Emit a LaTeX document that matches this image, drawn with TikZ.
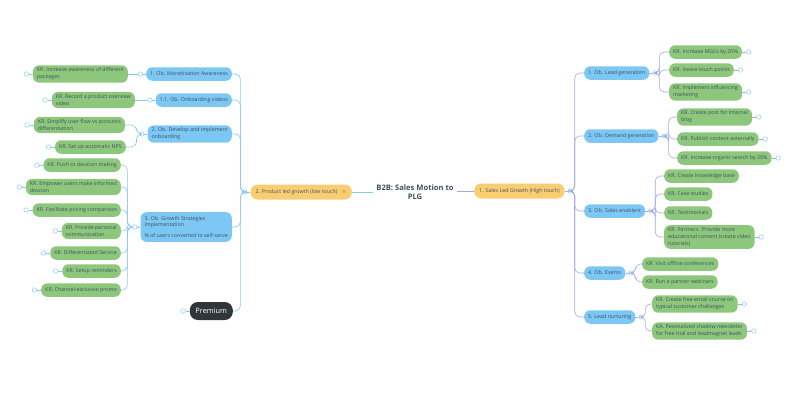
\documentclass[tikz,border=0pt]{standalone}
\usepackage{fontspec}
\setmainfont{Open Sans}
\usetikzlibrary{positioning}

\definecolor{obblue}{HTML}{7CC7F3}
\definecolor{krgreen}{HTML}{8DC77B}
\definecolor{goalorange}{HTML}{F9CE72}
\definecolor{premdark}{HTML}{30363A}
\definecolor{boxtext}{HTML}{3E5063}
\definecolor{leftline}{HTML}{88C9EE}
\definecolor{rightline}{HTML}{A2ABE4}
\definecolor{knobblue}{HTML}{8FCBEF}
\definecolor{noteicon}{HTML}{B07A1E}

\begin{document}
\begin{tikzpicture}[
  x=1pt, y=-1pt,
  every node/.style={font=\fontsize{5.3}{6.8}\selectfont, text=boxtext, align=left},
  ob/.style={fill=obblue, rounded corners=6pt, inner xsep=4pt, inner ysep=2.6pt, minimum height=13.5pt},
  kr/.style={fill=krgreen, rounded corners=6pt, inner xsep=4pt, inner ysep=2.6pt, minimum height=13.5pt},
  goal/.style={fill=goalorange, rounded corners=7pt, inner xsep=5pt, minimum height=15pt},
  prem/.style={fill=premdark, text=white, rounded corners=8pt, font=\fontsize{7.4}{8}\selectfont,
    minimum height=18pt, minimum width=43pt},
  title/.style={font=\bfseries\fontsize{7.6}{9}\selectfont, align=center},
  knob/.style={circle, draw=knobblue, fill=white, line width=0.5pt, minimum size=4.5pt, inner sep=0pt},
  lline/.style={draw=leftline, line width=0.6pt, rounded corners=5pt},
  rline/.style={draw=rightline, line width=0.6pt, rounded corners=5pt}
]
\useasboundingbox (0,0) rectangle (800,400);

% centre
\node[title] (main) at (415,192) {B2B: Sales Motion to\\PLG};
\node[goal, anchor=east] (gL) at (352,192)
  {2. Product led growth (low touch)\hspace{4pt}{\color{noteicon}$\equiv$}};
\node[goal, anchor=west] (gR) at (474,191) {1. Sales Led Growth (High touch)};
\draw[lline] (main.west |- gL.east) -- (gL.east);
\draw[rline] (main.east |- gR.west) -- (gR.west);

% left: product led
\node[ob, anchor=east] (oA) at (232,74) {1. Ob. Monetisation Awareness};
\node[ob, anchor=east] (oB) at (232,100) {1.1. Ob. Onboarding videos};
\node[ob, anchor=east] (oC) at (232,134) {2. Ob. Develop and implement\\onboarding};
\node[ob, anchor=east, inner ysep=4pt] (oD) at (232,227)
  {3. Ob. Growth Strategies\\implementation\\[4pt]\% of users converted to self-serve};
\node[prem, anchor=east] (prem) at (233,311) {Premium};

\node[kr, anchor=east] (kAa) at (128,74) {KR. Increase awareness of different\\packages};
\node[kr, anchor=east] (kAb) at (135,100) {KR. Record a product overview\\video};
\node[kr, anchor=east] (kBa) at (125,125) {KR. Simplify user flow vs accounts\\differentiation};
\node[kr, anchor=east] (kBb) at (126,147) {KR. Set up automatic NPS};
\node[kr, anchor=east] (kCa) at (121,165) {KR. Push to devicion making};
\node[kr, anchor=east] (kCb) at (121,187) {KR. Empower users make informed\\descion};
\node[kr, anchor=east] (kCc) at (121,210) {KR. Facilitate pricing comparison};
\node[kr, anchor=east] (kCd) at (121,231) {KR. Provide personal\\communication};
\node[kr, anchor=east] (kCe) at (121,253) {KR. Differentiated Service};
\node[kr, anchor=east] (kCf) at (121,271) {KR. Setup reminders};
\node[kr, anchor=east] (kCg) at (121,290) {KR. Channel-exclusive promo};

\node[knob, left=3pt of gL] (gL-k) {};
\foreach \n in {oA,oB,oC,oD} {
  \node[knob, left=3pt of \n] (\n-k) {};
  \draw[lline] (\n) -- (\n-k);
}
\node[knob, left=4pt of prem] (prem-k) {};
\draw[lline] (prem) -- (prem-k);
\foreach \n in {kAa,kAb,kBa,kBb,kCa,kCb,kCc,kCd,kCe,kCf,kCg} {
  \node[knob, left=4pt of \n] (\n-k) {};
  \draw[lline] (\n) -- (\n-k);
}

\draw[lline] (gL) -- (gL-k);
\foreach \c in {oA,oB,oC,oD,prem}
  \draw[lline] (gL-k.west) -- ++(-2,0) |- (\c.east);
\draw[lline] (oA-k) -- (kAa);
\draw[lline] (oB-k) -- (kAb);
\foreach \c in {kBa,kBb}
  \draw[lline] (oC-k.west) -- ++(-3,0) |- (\c.east);
\foreach \c in {kCa,kCb,kCc,kCd,kCe,kCf,kCg}
  \draw[lline] (oD-k.west) -- ++(-5,0) |- (\c.east);

% right: sales led
\node[ob, anchor=west] (rA) at (584,73) {1. Ob. Lead generation};
\node[ob, anchor=west] (rB) at (584,136) {2. Ob. Demand generation};
\node[ob, anchor=west] (rC) at (584,211) {3. Ob. Sales enablent};
\node[ob, anchor=west] (rD) at (584,273) {4. Ob. Events};
\node[ob, anchor=west] (rE) at (584,317) {5. Lead nurturing};

\node[kr, anchor=west] (kRa) at (669,52) {KR. Increase MGL's by 20\%};
\node[kr, anchor=west] (kRb) at (669,70) {KR. Irease touch points};
\node[kr, anchor=west] (kRc) at (669,92) {KR. Implement influencing\\marketing};
\node[kr, anchor=west] (kRd) at (677,117) {KR. Create post for internal\\blog};
\node[kr, anchor=west] (kRe) at (677,139) {KR. Publish content externally};
\node[kr, anchor=west] (kRf) at (677,158) {KR. Increase organic search by 20\%};
\node[kr, anchor=west] (kRg) at (664,176) {KR. Create knowledge base};
\node[kr, anchor=west] (kRh) at (664,194) {KR. Case studies};
\node[kr, anchor=west] (kRi) at (664,213) {KR. Testimonials};
\node[kr, anchor=west] (kRj) at (664,237) {KR. Partners. Provide more\\educational content (create video\\tutorials)};
\node[kr, anchor=west] (kRk) at (642,264) {KR. Visit offline conferences};
\node[kr, anchor=west] (kRl) at (642,282) {KR. Run a partner webinars};
\node[kr, anchor=west] (kRm) at (652,304) {KR. Create free email course on\\typical customer challenges};
\node[kr, anchor=west] (kRn) at (652,331) {KA. Pesonalized shadow newsletter\\for free trial and leadmagnet leads};

\node[knob, right=3pt of gR] (gR-k) {};
\draw[rline] (gR) -- (gR-k);
\foreach \n in {rA,rB,rC,rD,rE} {
  \node[knob, right=3pt of \n] (\n-k) {};
  \draw[rline] (\n) -- (\n-k);
}
\foreach \n in {kRa,kRb,kRc,kRd,kRe,kRf,kRj,kRm,kRn} {
  \node[knob, right=4pt of \n] (\n-k) {};
  \draw[rline] (\n) -- (\n-k);
}

\foreach \c in {rA,rB,rC,rD,rE}
  \draw[rline] (gR-k.east) -- ++(2,0) |- (\c.west);
\foreach \c in {kRa,kRb,kRc}
  \draw[rline] (rA-k.east) -- ++(2,0) |- (\c.west);
\foreach \c in {kRd,kRe,kRf}
  \draw[rline] (rB-k.east) -- ++(2,0) |- (\c.west);
\foreach \c in {kRg,kRh,kRi,kRj}
  \draw[rline] (rC-k.east) -- ++(2,0) |- (\c.west);
\foreach \c in {kRk,kRl}
  \draw[rline] (rD-k.east) -- ++(2,0) |- (\c.west);
\foreach \c in {kRm,kRn}
  \draw[rline] (rE-k.east) -- ++(2,0) |- (\c.west);
\end{tikzpicture}
\end{document}
